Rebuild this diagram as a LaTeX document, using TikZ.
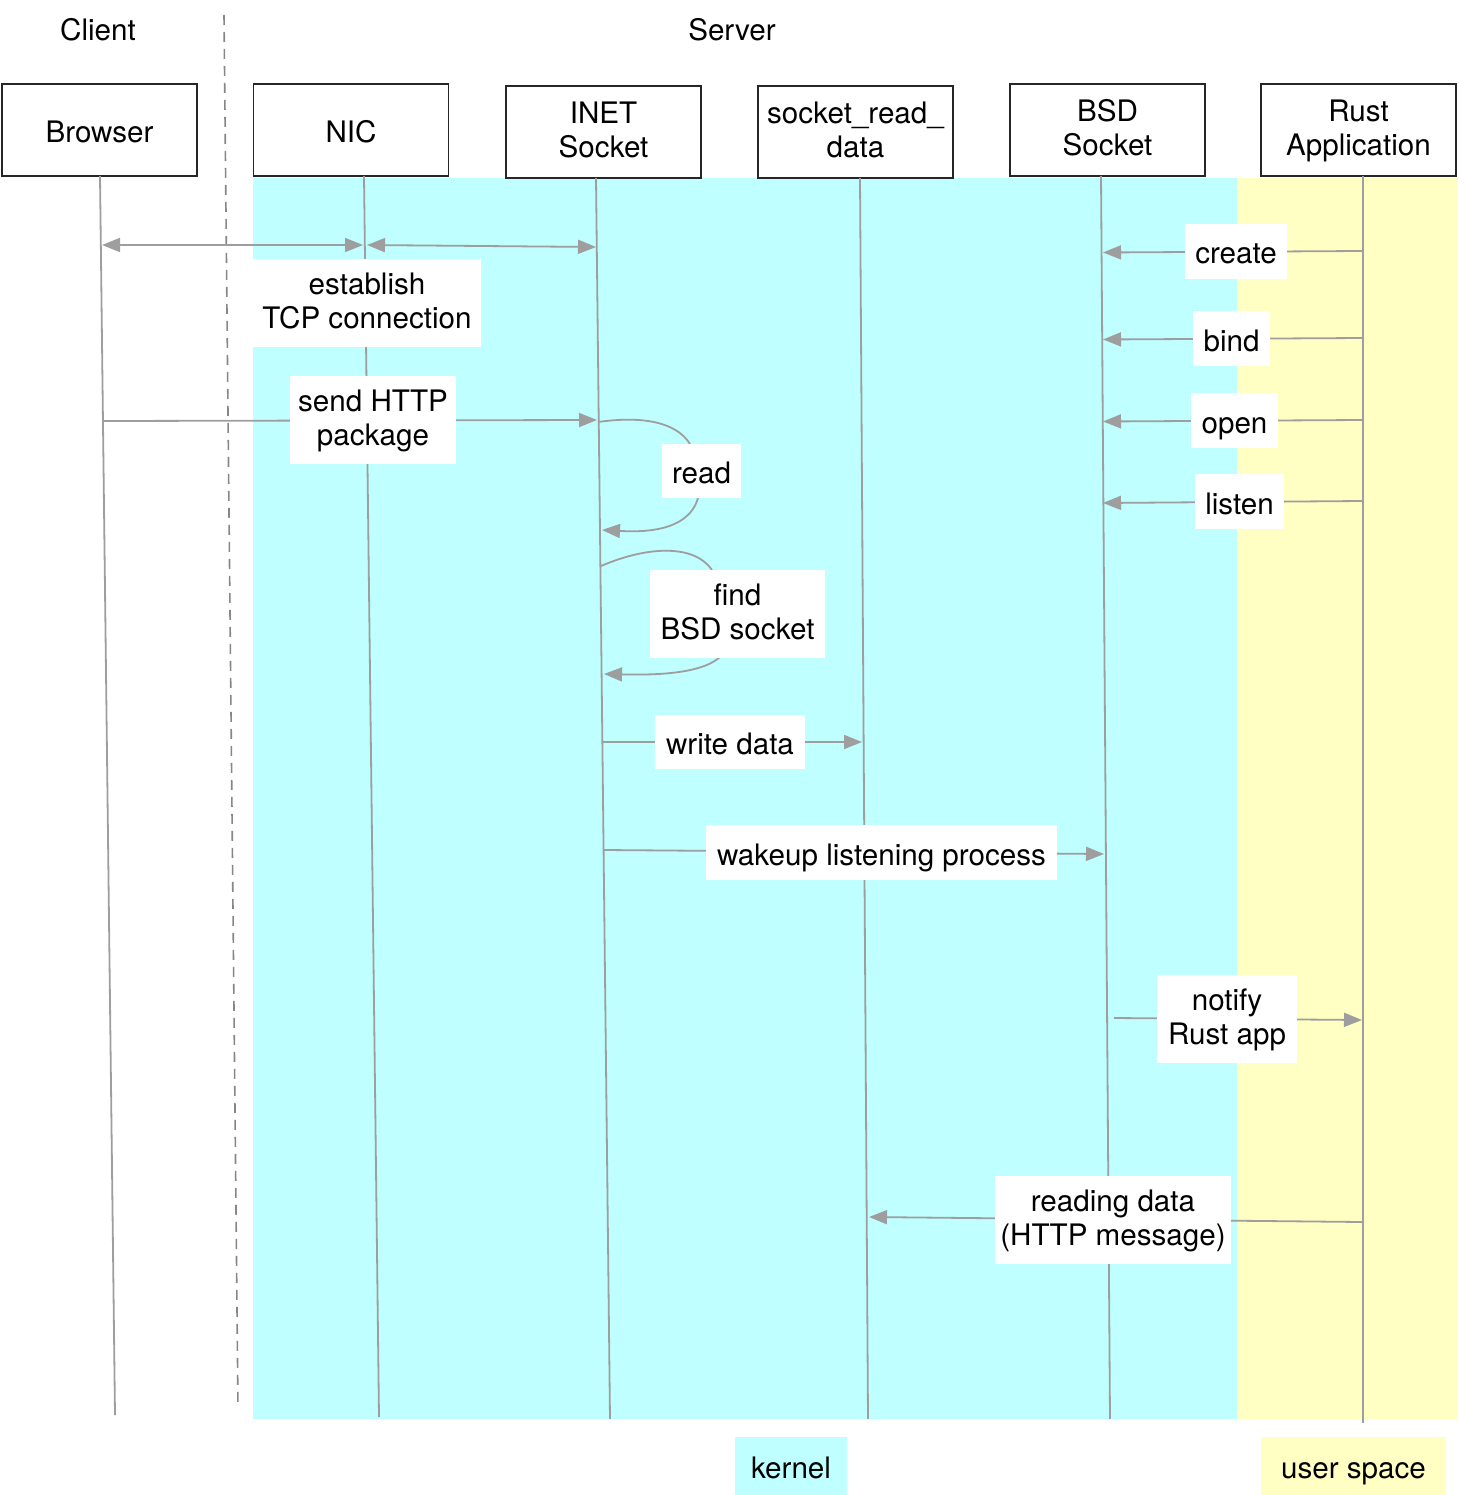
\documentclass[tikz,border=0pt]{standalone}
\usepackage{fontspec}
\setmainfont{TeX Gyre Heros}
\usetikzlibrary{arrows.meta}
\definecolor{kcyan}{HTML}{BFFFFF}
\definecolor{uyel}{HTML}{FFFFC4}
\definecolor{lgray}{HTML}{9E9E9E}
\newcommand\mystrut{\rule{0pt}{29.5pt}}
\begin{document}
\begin{tikzpicture}[x=1pt,y=-1pt,
  every node/.style={font=\fontsize{29.6}{34}\selectfont, align=center, inner sep=0pt,
    text depth=4.5pt, execute at begin node=\mystrut},
  actor/.style={draw=black!85, line width=1.6pt, fill=white, minimum width=195pt, minimum height=92pt},
  lbl/.style={fill=white},
  life/.style={draw=lgray, line width=1.8pt},
  msg/.style={draw=lgray, line width=1.8pt, -{Triangle[length=18pt,width=14pt]}},
  plain/.style={draw=lgray, line width=1.8pt},
  dmsg/.style={draw=lgray, line width=1.8pt, {Triangle[length=18pt,width=14pt]}-{Triangle[length=18pt,width=14pt]}}
]
\useasboundingbox (0,0) rectangle (1458,1495);
% regions
\fill[kcyan] (253,178) rectangle (1237,1419);
\fill[uyel] (1237,178) rectangle (1458,1419);
% header labels
\node (client) at (98,28) {Client};
\node (server) at (732,28) {Server};
\coordinate (dtop) at (224,15);
\coordinate (dbot) at (238,1408);
\draw[lgray!85!black, line width=1.6pt, dash pattern=on 10pt off 7pt] (dtop) -- (dbot);
% actors
\node[actor] (browser) at (99.5,130) {Browser};
\node[actor] (nic) at (351,130) {NIC};
\node[actor] (inet) at (603.5,132) {INET\\Socket};
\node[actor] (srd) at (855.5,132) {socket\_read\_\\data};
\node[actor] (bsd) at (1107.5,130) {BSD\\Socket};
\node[actor] (rust) at (1358.5,130) {Rust\\Application};
% lifelines
\coordinate (browsert) at (100,176);  \coordinate (browserb) at (115,1415);
\coordinate (nict) at (364,176);      \coordinate (nicb) at (379,1417);
\coordinate (inett) at (596,178);     \coordinate (inetb) at (610,1419);
\coordinate (srdt) at (860,178);      \coordinate (srdb) at (868,1419);
\coordinate (bsdt) at (1101,176);     \coordinate (bsdb) at (1110,1419);
\coordinate (rustt) at (1363,176);    \coordinate (rustb) at (1363,1423);
\draw[life] (browsert) -- (browserb);
\draw[life] (nict) -- (nicb);
\draw[life] (inett) -- (inetb);
\draw[life] (srdt) -- (srdb);
\draw[life] (bsdt) -- (bsdb);
\draw[life] (rustt) -- (rustb);
% establish TCP connection
\coordinate (m1a) at (102,245); \coordinate (m1b) at (363,245);
\coordinate (m1c) at (367,245); \coordinate (m1d) at (596,247);
\draw[dmsg] (m1a) -- (m1b);
\draw[dmsg] (m1c) -- (m1d);
\node[lbl, minimum width=228pt, minimum height=88pt] (est) at (367,303) {establish\\TCP connection};
% send HTTP package
\coordinate (m2a) at (104,421); \coordinate (m2b) at (597,420);
\draw[msg] (m2a) -- (m2b);
\node[lbl, minimum width=166pt, minimum height=88pt] (send) at (373,420) {send HTTP\\package};
% read self loop
\coordinate (r1) at (598,422); \coordinate (r2) at (602,530);
\coordinate (r3) at (690,444); \coordinate (r4) at (698,498);
\draw[plain] (r1) .. controls (655,414) and (680,428) .. (r3);
\draw[msg] (r4) .. controls (688,533) and (640,532) .. (r2);
\node[lbl, minimum width=79pt, minimum height=54pt] (read) at (701.5,471) {read};
% find BSD socket loop
\coordinate (f1) at (601,566); \coordinate (f2) at (604,674);
\coordinate (f3) at (712,570); \coordinate (f4) at (720,657);
\draw[plain] (f1) .. controls (650,545) and (695,545) .. (f3);
\draw[msg] (f4) .. controls (700,675) and (650,675) .. (f2);
\node[lbl, minimum width=175pt, minimum height=88pt] (find) at (737.5,613.5) {find\\BSD socket};
% write data
\coordinate (w1) at (603,742); \coordinate (w2) at (862,742);
\draw[msg] (w1) -- (w2);
\node[lbl, minimum width=150pt, minimum height=54pt] (write) at (730,742) {write data};
% wakeup
\coordinate (k1) at (604,850); \coordinate (k2) at (1104,854);
\draw[msg] (k1) -- (k2);
\node[lbl, minimum width=351pt, minimum height=55pt] (wake) at (881.5,852.5) {wakeup listening process};
% notify
\coordinate (n1) at (1114,1018); \coordinate (n2) at (1362,1020);
\draw[msg] (n1) -- (n2);
\node[lbl, minimum width=140pt, minimum height=88pt] (notify) at (1227,1019) {notify\\Rust app};
% reading data
\coordinate (rd1) at (1362,1222); \coordinate (rd2) at (869,1217);
\draw[msg] (rd1) -- (rd2);
\node[lbl, minimum width=236pt, minimum height=88pt] (rdata) at (1113,1219.5) {reading data\\(HTTP message)};
% create, bind, open, listen
\coordinate (c1) at (1362,251); \coordinate (c2) at (1103,252.5);
\draw[msg] (c1) -- (c2);
\node[lbl, minimum width=102pt, minimum height=55pt] (create) at (1236,251.5) {create};
\coordinate (b1) at (1362,338); \coordinate (b2) at (1103,339.5);
\draw[msg] (b1) -- (b2);
\node[lbl, minimum width=77pt, minimum height=55pt] (bind) at (1231.5,338.5) {bind};
\coordinate (o1) at (1362,420); \coordinate (o2) at (1103,421.5);
\draw[msg] (o1) -- (o2);
\node[lbl, minimum width=87pt, minimum height=55pt] (open) at (1234.5,420.5) {open};
\coordinate (l1) at (1362,501); \coordinate (l2) at (1103,503);
\draw[msg] (l1) -- (l2);
\node[lbl, minimum width=89pt, minimum height=55pt] (listen) at (1239.5,501.5) {listen};
% legend
\node[fill=kcyan, minimum width=112pt, minimum height=59pt] (kernel) at (791,1466) {kernel};
\node[fill=uyel, minimum width=185pt, minimum height=59pt] (user) at (1353.5,1466) {user space};
\end{tikzpicture}
\end{document}
